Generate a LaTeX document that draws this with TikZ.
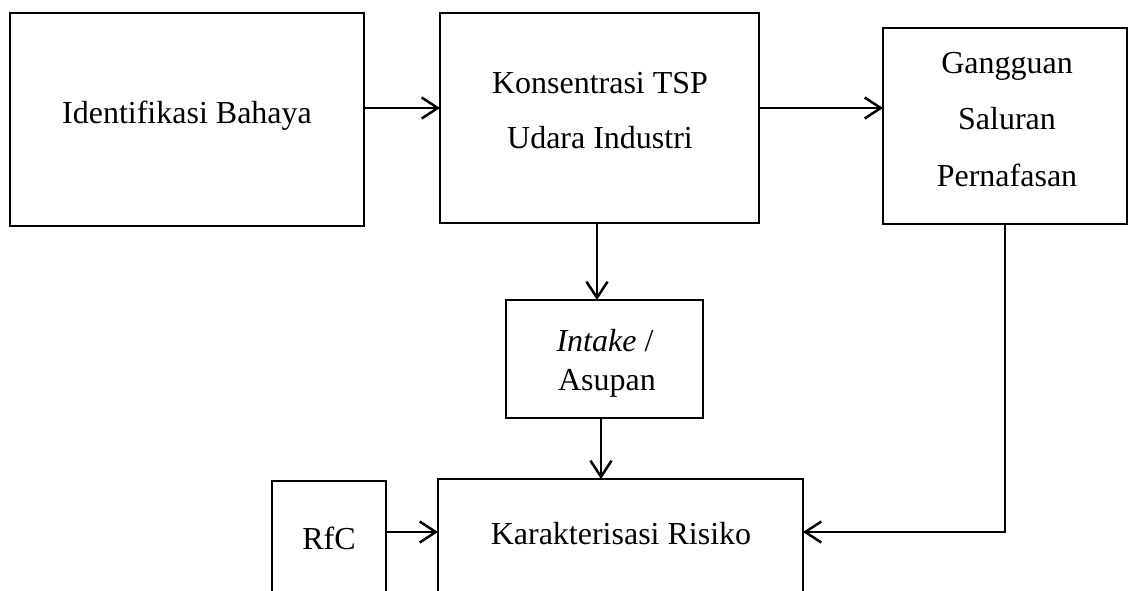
\documentclass[tikz,border=0pt]{standalone}
\usepackage{fontspec}
\setmainfont{Liberation Serif}
\usetikzlibrary{arrows.meta,calc}
\begin{document}
\begin{tikzpicture}[x=1pt,y=-1pt,
  box/.style={draw,line width=1.3pt,rectangle,inner sep=0pt,outer sep=0pt,anchor=north west},
  lbl/.style={font=\fontsize{32}{38}\selectfont,inner sep=0pt,anchor=base},
  arr/.style={line width=2.5pt,-{Straight Barb[length=16pt,width=21pt]}}]
\useasboundingbox (0,0) rectangle (1129,590);
\clip (0,0) rectangle (1129,590);
% boxes
\node[box,minimum width=354pt,minimum height=213pt] (hazard) at (10,13) {};
\node[box,minimum width=319pt,minimum height=210pt] (conc) at (440,13) {};
\node[box,minimum width=244pt,minimum height=196pt] (resp) at (883,28) {};
\node[box,minimum width=197pt,minimum height=118pt] (intake) at (506,300) {};
\node[box,minimum width=114pt,minimum height=160pt] (rfc) at (272,481) {};
\node[box,minimum width=365pt,minimum height=160pt] (risk) at (438,479) {};
% labels
\node[lbl] (thazard) at (187,123) {Identifikasi Bahaya};
\node[lbl] (tconc1) at (600,93) {Konsentrasi TSP};
\node[lbl] (tconc2) at (600,148) {Udara Industri};
\node[lbl] (tresp1) at (1007,73) {Gangguan};
\node[lbl] (tresp2) at (1007,129) {Saluran};
\node[lbl] (tresp3) at (1007,186) {Pernafasan};
\node[lbl] (tint1) at (605,351) {\textit{Intake} /};
\node[lbl] (tint2) at (607,390) {Asupan};
\node[lbl] (trfc) at (329,549) {RfC};
\node[lbl] (trisk) at (621,544) {Karakterisasi Risiko};
% connectors
\draw[arr] ($(hazard.north east)+(0,95)$) -- ($(conc.north west)+(0,95)$);
\draw[arr] ($(conc.north east)+(0,95)$) -- ($(resp.north west)+(0,80)$);
\draw[arr] ($(conc.south west)+(157,0)$) -- ($(intake.north west)+(91,0)$);
\draw[arr] ($(intake.south west)+(95,0)$) -- ($(risk.north west)+(163,0)$);
\draw[arr] ($(rfc.north east)+(0,51)$) -- ($(risk.north west)+(0,53)$);
\draw[arr] ($(resp.south west)+(122,0)$) |- ($(risk.north east)+(0,53)$);
\end{tikzpicture}
\end{document}
